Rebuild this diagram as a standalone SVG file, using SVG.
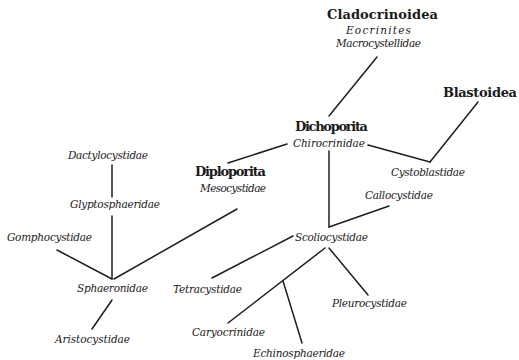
<svg xmlns="http://www.w3.org/2000/svg" width="519" height="360" viewBox="0 0 519 360">
<style>
.b{font-family:'DejaVu Serif',serif;font-weight:bold;font-size:13px;fill:#1a1a1a}
.i{font-family:'DejaVu Serif',serif;font-style:italic;font-size:10.5px;fill:#1a1a1a}
.c line{stroke:#1e1e1e;stroke-width:1.5;stroke-linecap:round}
</style>
<rect width="519" height="360" fill="#fff"/>
<g class="c" id="connectors">
<line x1="377" y1="57" x2="329" y2="116"/>
<line x1="478" y1="102" x2="430" y2="162"/>
<line x1="430" y1="162" x2="368" y2="145"/>
<line x1="287" y1="144" x2="228" y2="163"/>
<line x1="329" y1="151" x2="329" y2="227"/>
<line x1="329" y1="227" x2="389" y2="206"/>
<line x1="293" y1="236" x2="212" y2="278"/>
<line x1="325" y1="248" x2="228" y2="323"/>
<line x1="283" y1="281" x2="302" y2="343"/>
<line x1="329" y1="248" x2="368" y2="295"/>
<line x1="112" y1="165" x2="112" y2="197"/>
<line x1="112" y1="216" x2="112" y2="279"/>
<line x1="57" y1="250" x2="112" y2="279"/>
<line x1="114" y1="279" x2="237" y2="209"/>
<line x1="112" y1="300" x2="92" y2="329"/>
</g>
<g id="cladocrinoidea"><text class="b" x="327" y="19" textLength="111" lengthAdjust="spacing">Cladocrinoidea</text>
<text class="i" x="346" y="34" textLength="65" lengthAdjust="spacing">Eocrinites</text>
<text class="i" x="336" y="47" textLength="85" lengthAdjust="spacing">Macrocystellidae</text></g>
<g id="blastoidea"><text class="b" x="443" y="97" textLength="74" lengthAdjust="spacing">Blastoidea</text></g>
<g id="dichoporita"><text class="b" x="295" y="131" textLength="73" lengthAdjust="spacing">Dichoporita</text>
<text class="i" x="293" y="147" textLength="72" lengthAdjust="spacing">Chirocrinidae</text></g>
<g id="diploporita"><text class="b" x="195" y="176" textLength="71" lengthAdjust="spacing">Diploporita</text>
<text class="i" x="200" y="192" textLength="66" lengthAdjust="spacing">Mesocystidae</text></g>
<g id="cystoblastidae"><text class="i" x="391" y="176" textLength="74" lengthAdjust="spacing">Cystoblastidae</text></g>
<g id="callocystidae"><text class="i" x="365" y="199" textLength="68" lengthAdjust="spacing">Callocystidae</text></g>
<g id="dactylocystidae"><text class="i" x="68" y="159" textLength="80" lengthAdjust="spacing">Dactylocystidae</text></g>
<g id="glyptosphaeridae"><text class="i" x="70" y="208" textLength="90" lengthAdjust="spacing">Glyptosphaeridae</text></g>
<g id="gomphocystidae"><text class="i" x="7" y="241" textLength="85" lengthAdjust="spacing">Gomphocystidae</text></g>
<g id="scoliocystidae"><text class="i" x="295" y="241" textLength="73" lengthAdjust="spacing">Scoliocystidae</text></g>
<g id="sphaeronidae"><text class="i" x="77" y="292" textLength="71" lengthAdjust="spacing">Sphaeronidae</text></g>
<g id="tetracystidae"><text class="i" x="173" y="293" textLength="69" lengthAdjust="spacing">Tetracystidae</text></g>
<g id="pleurocystidae"><text class="i" x="332" y="307" textLength="75" lengthAdjust="spacing">Pleurocystidae</text></g>
<g id="aristocystidae"><text class="i" x="55" y="343" textLength="75" lengthAdjust="spacing">Aristocystidae</text></g>
<g id="caryocrinidae"><text class="i" x="192" y="336" textLength="73" lengthAdjust="spacing">Caryocrinidae</text></g>
<g id="echinosphaeridae"><text class="i" x="253" y="357" textLength="92" lengthAdjust="spacing">Echinosphaeridae</text></g>
</svg>
